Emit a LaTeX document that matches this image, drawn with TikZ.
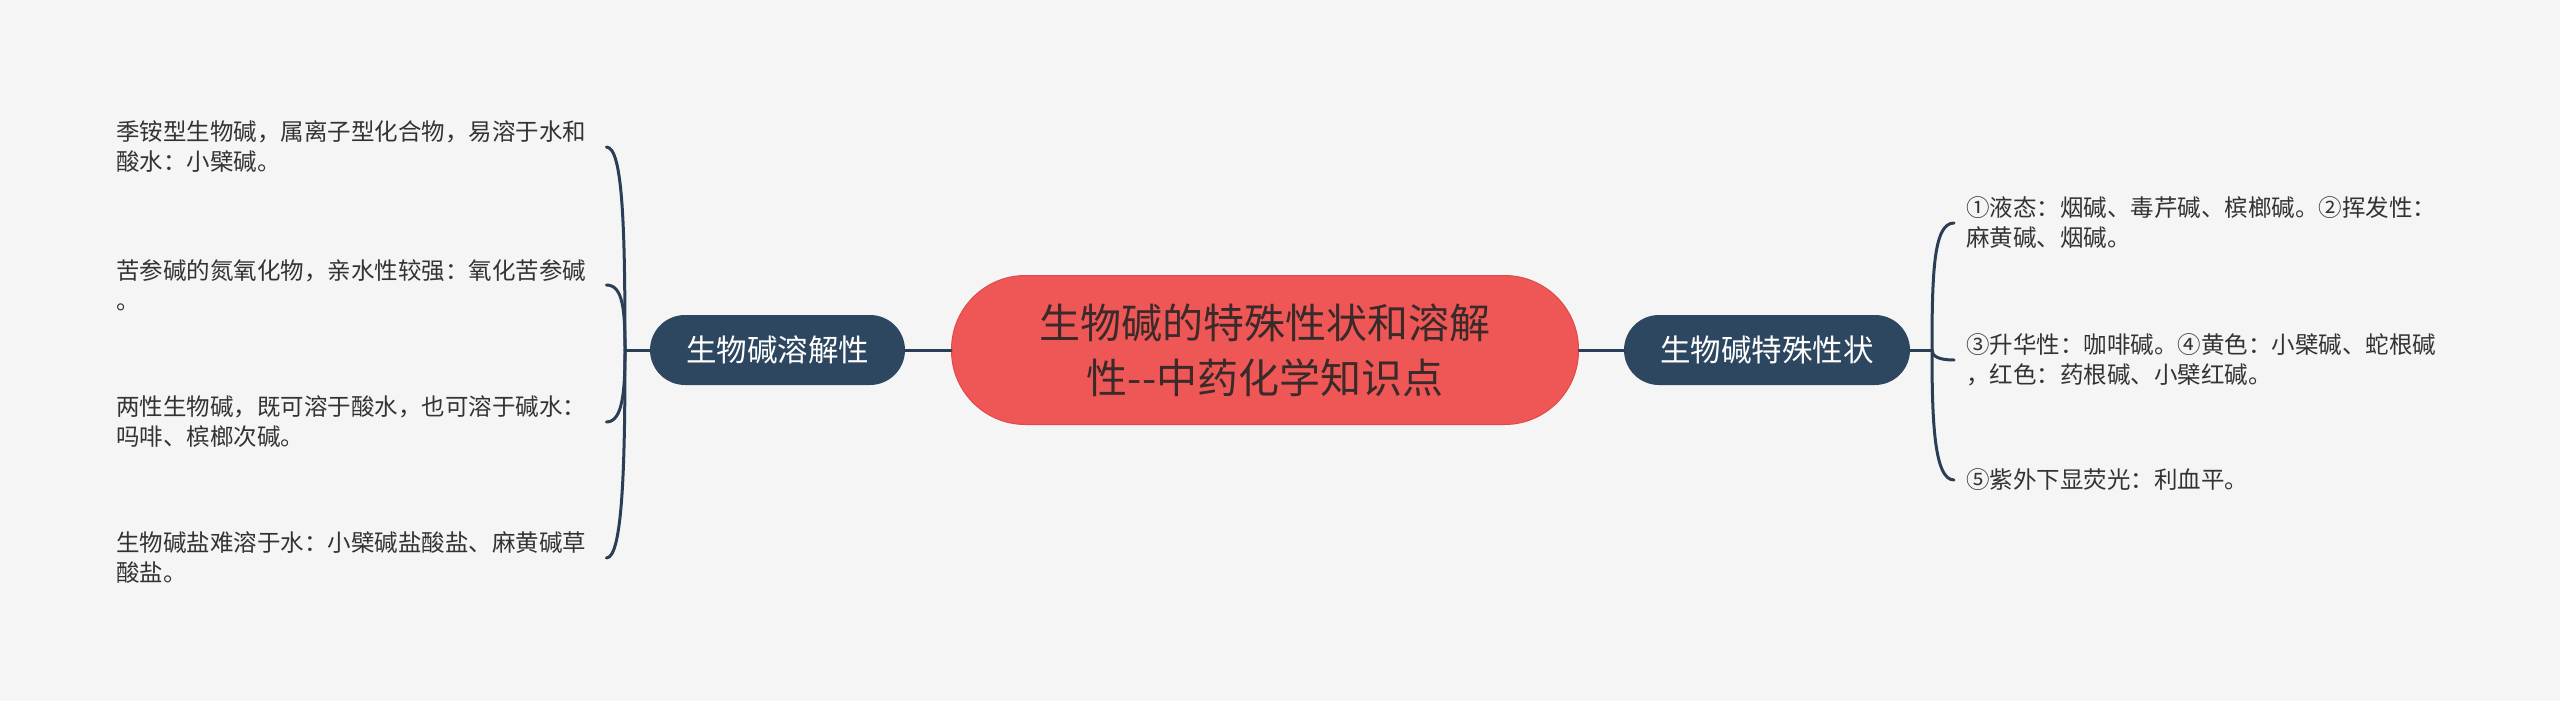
\documentclass[tikz,border=0pt]{standalone}
\usepackage{fontspec}
\newfontfamily\cjk{Noto Sans CJK SC}
\definecolor{bg}{HTML}{F5F5F5}
\definecolor{rootred}{HTML}{EF5757}
\definecolor{rootedge}{HTML}{E04A4A}
\definecolor{subblue}{HTML}{2E4760}
\definecolor{linec}{HTML}{2A3F56}
\definecolor{txt}{HTML}{333333}
\definecolor{roottxt}{HTML}{3A2A2A}
\begin{document}
\begin{tikzpicture}[x=1pt,y=-1pt,
  rootbox/.style={fill=rootred, draw=rootedge, line width=1pt, rounded corners=74pt,
    minimum width=627pt, minimum height=149pt, align=center, text=roottxt,
    font=\cjk\fontsize{41}{55}\selectfont, inner sep=0pt},
  subbox/.style={fill=subblue, rounded corners=35pt, minimum width=255pt, minimum height=70pt,
    text=white, font=\cjk\fontsize{30.5}{36}\selectfont, inner sep=0pt},
  lleaf/.style={anchor=west, align=left, text width=490pt, inner sep=0pt, text=txt,
    font=\cjk\fontsize{23.5}{30}\selectfont},
  rleaf/.style={anchor=west, align=left, text width=540pt, inner xsep=12pt, inner ysep=0pt, text=txt,
    font=\cjk\fontsize{23.5}{30}\selectfont},
  conn/.style={draw=linec, line width=3pt, line cap=round}]
\fill[bg] (0,0) rectangle (2560,701);
\useasboundingbox (0,0) rectangle (2560,701);

\node[rootbox] (root) at (1265,350) {生物碱的特殊性状和溶解\\性-{}-中药化学知识点};
\node[subbox] (lsub) at (777.5,350) {生物碱溶解性};
\node[subbox, minimum width=286pt] (rsub) at (1767,350) {生物碱特殊性状};

\node[lleaf] (l1) at (116,147) {季铵型生物碱，属离子型化合物，易溶于水和\\酸水：小檗碱。};
\node[lleaf] (l2) at (116,285) {苦参碱的氮氧化物，亲水性较强：氧化苦参碱\\。};
\node[lleaf] (l3) at (116,422) {两性生物碱，既可溶于酸水，也可溶于碱水：\\吗啡、槟榔次碱。};
\node[lleaf] (l4) at (116,558) {生物碱盐难溶于水：小檗碱盐酸盐、麻黄碱草\\酸盐。};

\node[rleaf] (r1) at (1954,223) {①液态：烟碱、毒芹碱、槟榔碱。②挥发性：\\麻黄碱、烟碱。};
\node[rleaf] (r2) at (1954,360) {③升华性：咖啡碱。④黄色：小檗碱、蛇根碱\\，红色：药根碱、小檗红碱。};
\node[rleaf] (r3) at (1954,480) {⑤紫外下显荧光：利血平。};

\draw[conn] (lsub.east) -- (root.west);
\draw[conn] (root.east) -- (rsub.west);

\coordinate (lt) at (625,350);
\coordinate (rt) at (1932,350);
\draw[conn] (lsub.west) -- (lt);
\draw[conn] (rsub.east) -- (rt);

\draw[conn] (lt) .. controls (625,230) and (623,147) .. (l1.east);
\draw[conn] (lt) .. controls (625,310) and (623,285) .. (l2.east);
\draw[conn] (lt) .. controls (625,390) and (623,422) .. (l3.east);
\draw[conn] (lt) .. controls (625,460) and (623,558) .. (l4.east);

\draw[conn] (rt) .. controls (1932,270) and (1934,223) .. (r1.west);
\draw[conn] (rt) .. controls (1932,356) and (1938,360) .. (r2.west);
\draw[conn] (rt) .. controls (1932,420) and (1934,480) .. (r3.west);
\end{tikzpicture}
\end{document}
